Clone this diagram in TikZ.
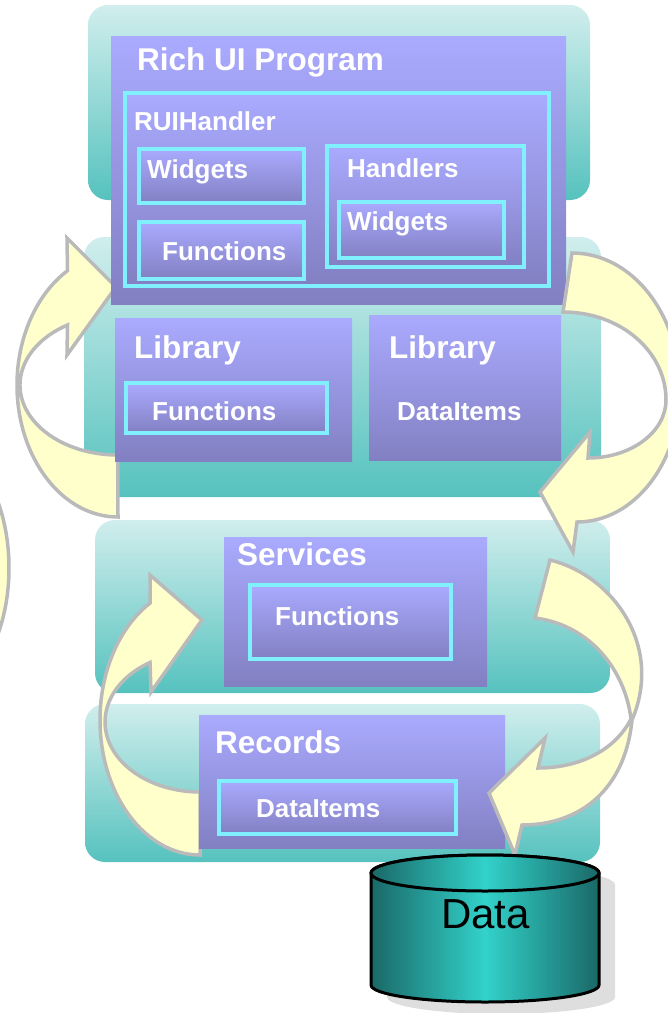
\documentclass[tikz,border=0pt]{standalone}
\usepackage{fontspec}
\setmainfont{Liberation Sans}
\usetikzlibrary{fit}
\definecolor{tealtop}{RGB}{208,238,237}
\definecolor{tealbot}{RGB}{86,194,190}
\definecolor{purtop}{RGB}{170,170,255}
\definecolor{purbot}{RGB}{130,128,194}
\definecolor{cyanl}{RGB}{128,240,255}
\definecolor{yel}{RGB}{255,255,204}
\definecolor{gry}{RGB}{186,186,186}
\definecolor{cyldark}{RGB}{26,104,103}
\definecolor{cylmid}{RGB}{50,210,202}
\definecolor{shadowc}{RGB}{222,222,222}
\begin{document}
\begin{tikzpicture}[x=1pt,y=-1pt,
  panel/.style={rounded corners=20pt, top color=tealtop, bottom color=tealbot, inner sep=0pt, outer sep=0pt},
  pbox/.style={top color=purtop, bottom color=purbot, inner sep=0pt, outer sep=0pt},
  cbox/.style={pbox, draw=cyanl, line width=3.5pt},
  lbl/.style={text=white, font=\bfseries\fontsize{26}{30}\selectfont, inner sep=0pt, anchor=base west},
  biglbl/.style={lbl, font=\bfseries\fontsize{31.5}{36}\selectfont},
  arr/.style={fill=yel, draw=gry, line width=3.5pt, line join=miter},
  cyl/.style={draw=black, line width=3pt, left color=cyldark, right color=cyldark, middle color=cylmid}]
\useasboundingbox (0,0) rectangle (668,1013);
\clip (0,0) rectangle (668,1013);

% partial arrow at the left edge
\draw[arr] (-70.6,568) ellipse [x radius=79.6pt, y radius=130pt];

% teal panels
\node[panel, fit={(88,5) (590,200)}] (p1) {};
\node[panel, fit={(84,237) (601,497)}] (p2) {};
\node[panel, fit={(95,520) (610,693)}] (p3) {};
\node[panel, fit={(85,704) (600,862)}] (p4) {};

% left curved arrows (behind boxes)
\draw[arr] (118,517) arc[start angle=270, end angle=120, x radius=101pt, y radius=132pt]
  -- (67,238) -- (116,287) -- (67,355) -- (67.5,325)
  arc[start angle=121, end angle=270, x radius=98pt, y radius=70pt] -- cycle;
\draw[arr] (200,855) arc[start angle=270, end angle=120, x radius=100pt, y radius=135pt]
  -- (150,575) -- (202,620) -- (151,692) -- (150,662.5)
  arc[start angle=121.8, end angle=270, x radius=95pt, y radius=70pt] -- cycle;

% Rich UI Program
\node[pbox, fit={(111,36) (566,304)}] (rich) {};
\node[biglbl] (richt) at (137,70) {Rich UI Program};
\node[cbox, fit={(125,93) (549,286)}] (ruih) {};
\node[lbl] (ruiht) at (134,130) {RUIHandler};
\node[cbox, fit={(139,149) (304,203)}] (w1) {};
\node[lbl] (w1t) at (147,178) {Widgets};
\node[cbox, fit={(139,222) (304,279)}] (f1) {};
\node[lbl] (f1t) at (162,260) {Functions};
\node[cbox, fit={(327,146) (524,267)}] (hd) {};
\node[lbl] (hdt) at (347,177) {Handlers};
\node[cbox, fit={(339,202) (504,258)}] (w2) {};
\node[lbl] (w2t) at (347,230) {Widgets};

% Libraries
\node[pbox, fit={(115,318) (352,461)}] (lib1) {};
\node[biglbl] (lib1t) at (134,358) {Library};
\node[cbox, fit={(126,383) (327,433)}] (f2) {};
\node[lbl] (f2t) at (152,420) {Functions};
\node[pbox, fit={(369,315) (561,460)}] (lib2) {};
\node[biglbl] (lib2t) at (389,358) {Library};
\node[lbl] (di1t) at (397,420) {DataItems};

% Services
\node[pbox, fit={(224,537) (487,686)}] (srv) {};
\node[biglbl] (srvt) at (237,565) {Services};
\node[cbox, fit={(250,585) (451,659)}] (f3) {};
\node[lbl] (f3t) at (275,625) {Functions};

% Records
\node[pbox, fit={(199,715) (505,848)}] (rec) {};
\node[biglbl] (rect) at (215,753) {Records};
\node[cbox, fit={(219,781) (456,834)}] (di2) {};
\node[lbl] (di2t) at (256,817) {DataItems};

% right curved arrows (in front)
\draw[arr] (572,253) .. controls (632,253) and (680,314) .. (680,390)
  .. controls (680,463) and (634,522) .. (577,522)
  -- (573,552) -- (540,492) -- (590,432) -- (588,458)
  .. controls (631,458) and (666,432) .. (666,400)
  .. controls (666,351) and (620,312) .. (563,312) -- cycle;
\draw[arr] (550,560) .. controls (612,575) and (664,645) .. (632,720)
  .. controls (625,790) and (580,825) .. (522,825)
  -- (515,855) -- (489,793) -- (545,738) -- (538,768)
  .. controls (580,768) and (615,750) .. (631,719)
  .. controls (625,670) and (590,625) .. (535,618) -- cycle;

% Data cylinder
\fill[shadowc] (387,885) -- (387,997) arc[start angle=180, end angle=360, x radius=114pt, y radius=17pt]
  -- (615,885) arc[start angle=0, end angle=180, x radius=114pt, y radius=18pt] -- cycle;
\draw[cyl] (371,873) -- (371,985) arc[start angle=180, end angle=360, x radius=114pt, y radius=17pt]
  -- (599,873) arc[start angle=0, end angle=180, x radius=114pt, y radius=18pt] -- cycle;
\draw[cyl] (485,873) ellipse [x radius=114pt, y radius=18pt];
\node[anchor=base west, inner sep=0pt, font=\fontsize{42}{48}\selectfont] (data) at (441,928) {Data};
\end{tikzpicture}
\end{document}
